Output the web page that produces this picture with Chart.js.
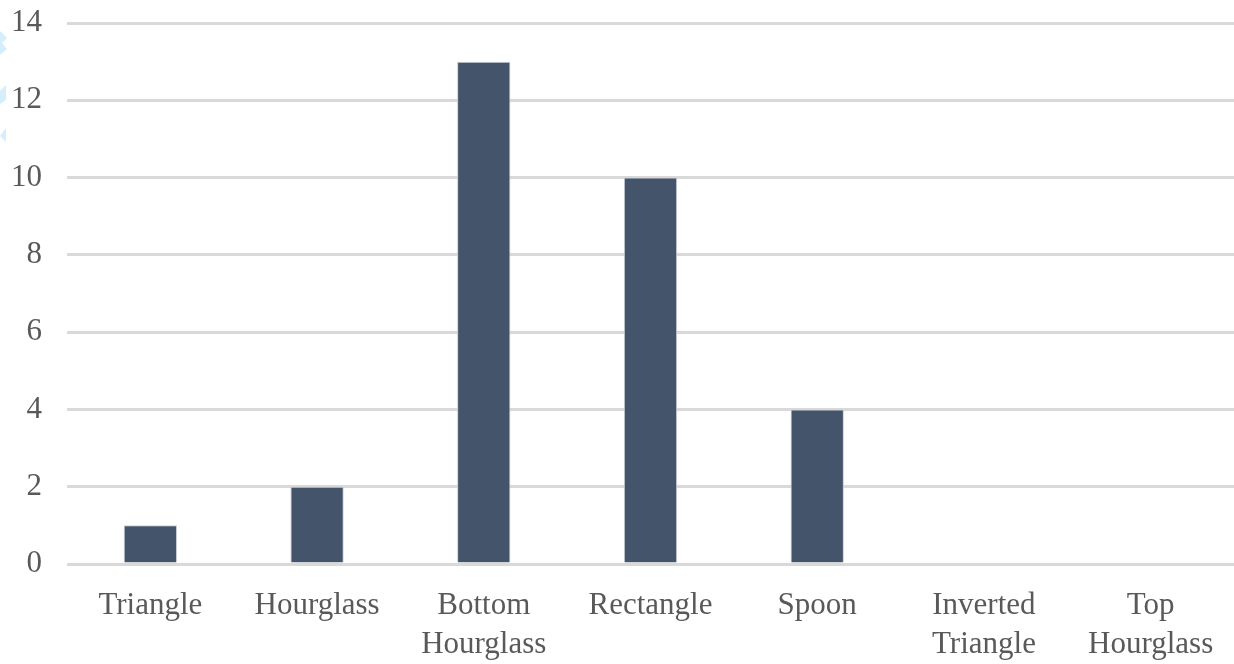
<!DOCTYPE html>
<html>
<head>
<meta charset="utf-8">
<script src="https://cdn.jsdelivr.net/npm/chart.js@4/dist/chart.umd.min.js"></script>
<style>
  html, body { margin: 0; padding: 0; background: #ffffff; }
  #wrap { width: 1234px; height: 664px; position: relative; }
</style>
</head>
<body>
<div id="wrap"><canvas id="c" width="1234" height="664"></canvas></div>
<script>
// Body shape counts
const categories = [
  'Triangle',
  'Hourglass',
  ['Bottom', 'Hourglass'],
  'Rectangle',
  'Spoon',
  ['Inverted', 'Triangle'],
  ['Top', 'Hourglass']
];
const counts = [1, 2, 13, 10, 4, 0, 0];
const yTicks = [0, 2, 4, 6, 8, 10, 12, 14];

const FONT = '"Liberation Serif", "Times New Roman", serif';

// small pale-blue marks along the left margin
const edgeMarks = {
  id: 'edgeMarks',
  beforeDraw(chart) {
    const ctx = chart.ctx;
    ctx.save();
    ctx.fillStyle = '#d5eefb';
    ctx.beginPath();
    ctx.moveTo(0, 31); ctx.lineTo(7, 38); ctx.lineTo(2, 43); ctx.lineTo(7, 49); ctx.lineTo(0, 55);
    ctx.closePath(); ctx.fill();
    ctx.beginPath();
    ctx.moveTo(6, 85); ctx.lineTo(6, 100); ctx.lineTo(0, 104); ctx.lineTo(0, 91);
    ctx.closePath(); ctx.fill();
    ctx.beginPath();
    ctx.moveTo(6, 128); ctx.lineTo(6, 142); ctx.lineTo(0, 136);
    ctx.closePath(); ctx.fill();
    ctx.restore();
  }
};

new Chart(document.getElementById('c'), {
  type: 'bar',
  data: {
    labels: categories,
    datasets: [{
      data: counts,
      backgroundColor: '#44546a',
      borderColor: '#c9ced6',
      borderWidth: 1,
      categoryPercentage: 1,
      barPercentage: 0.32
    }]
  },
  options: {
    responsive: false,
    animation: false,
    devicePixelRatio: 1,
    layout: { padding: { top: 23, right: 0, bottom: 0, left: 0 } },
    plugins: {
      legend: { display: false },
      tooltip: { enabled: false }
    },
    scales: {
      x: {
        grid: { display: false },
        border: { display: false },
        ticks: {
          color: '#595959',
          font: { family: FONT, size: 31, lineHeight: 1.24 },
          padding: 15,
          maxRotation: 0,
          autoSkip: false
        },
        afterFit(scale) { scale.height = 100; }
      },
      y: {
        min: 0,
        max: 14,
        afterBuildTicks(scale) { scale.ticks = yTicks.map(v => ({ value: v })); },
        grid: { color: '#d9d9d9', lineWidth: 3, drawTicks: false },
        border: { display: false },
        ticks: {
          color: '#595959',
          font: { family: FONT, size: 31 },
          padding: 25
        },
        afterFit(scale) {
          scale.width = 67;
          scale.paddingTop = 0;
          scale.paddingBottom = 0;
        }
      }
    }
  },
  plugins: [edgeMarks]
});
</script>
</body>
</html>
